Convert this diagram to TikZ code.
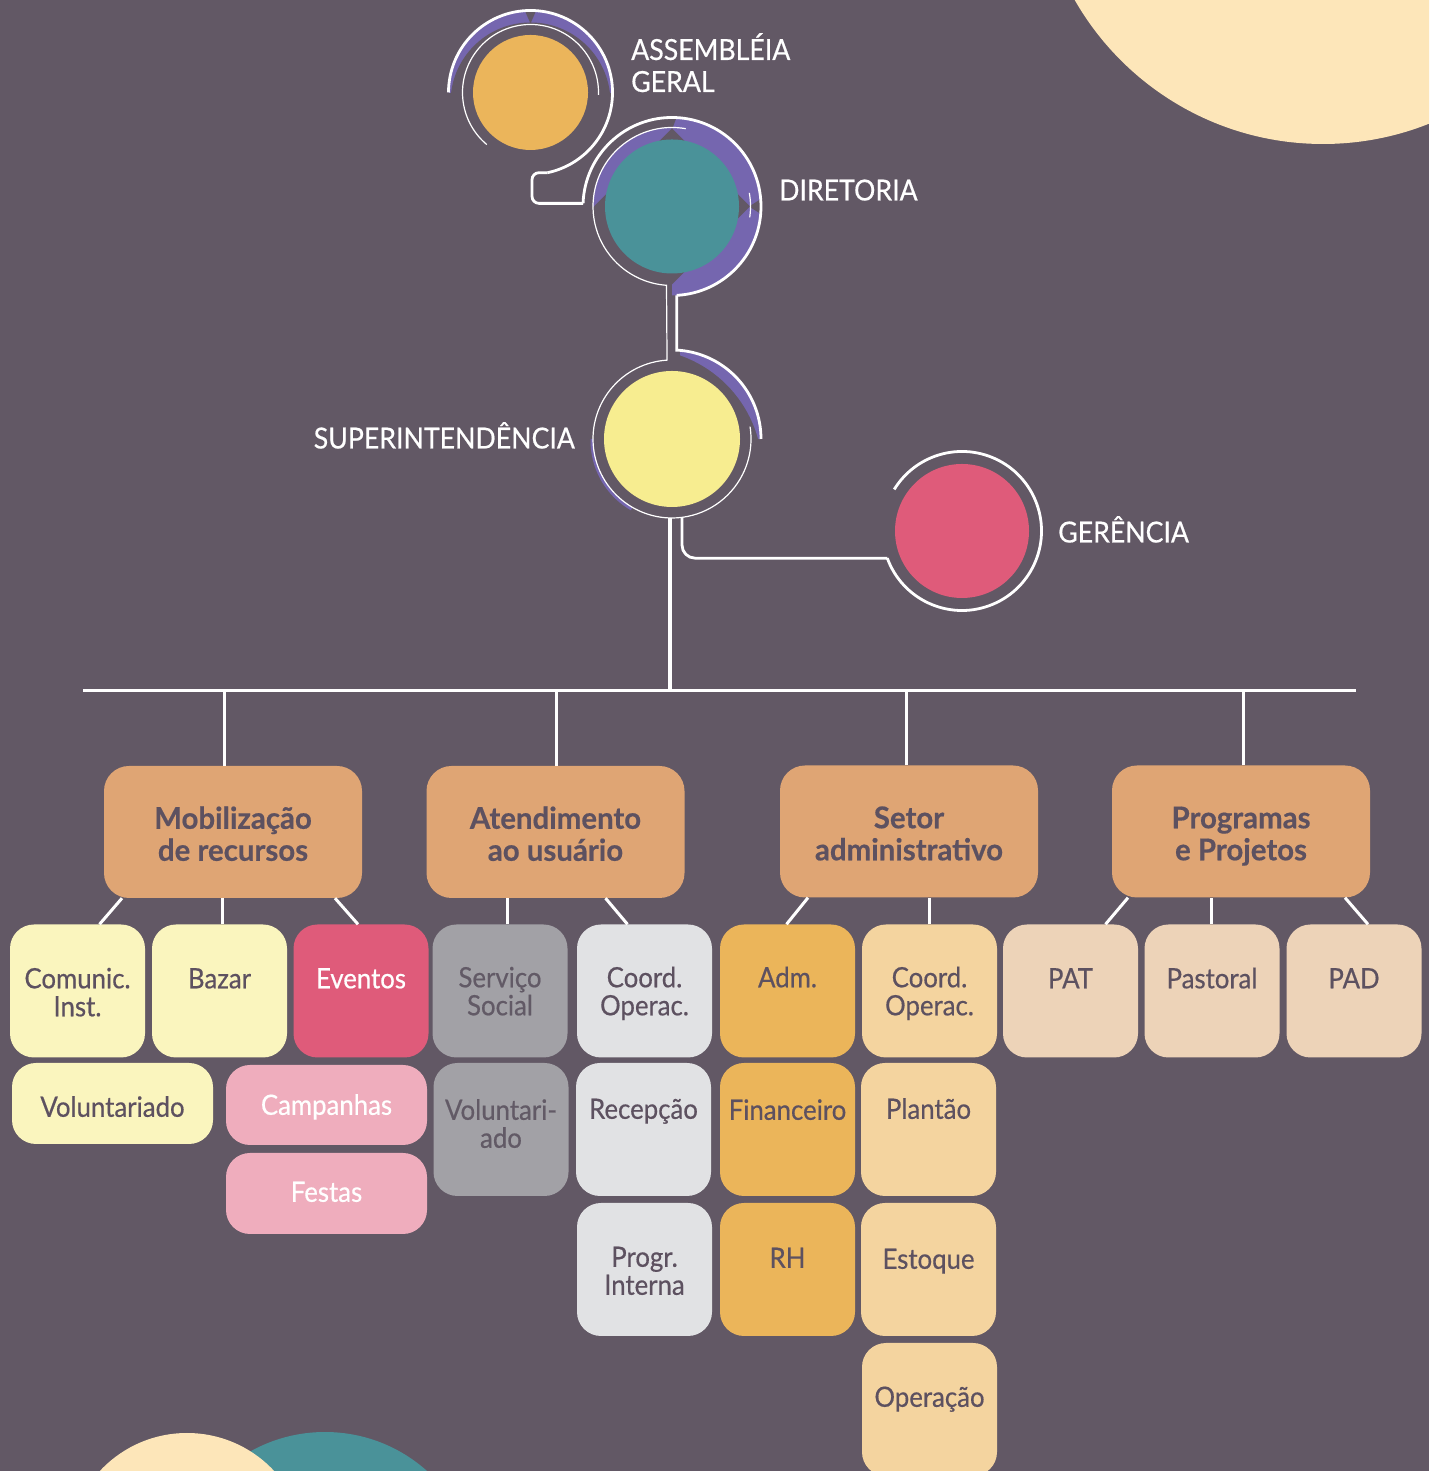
\documentclass[tikz,border=0pt]{standalone}
\usepackage{fontspec}
\setmainfont{Lato}[FakeStretch=0.92, FakeBold=0.5, BoldFeatures={FakeStretch=0.98}]
\usetikzlibrary{calc}
\definecolor{bgc}{HTML}{625865}
\definecolor{pur}{HTML}{7566AF}
\definecolor{cAg}{HTML}{EBB55B}
\definecolor{cTe}{HTML}{4A9299}
\definecolor{cYe}{HTML}{F7ED90}
\definecolor{cPi}{HTML}{DF5B7A}
\definecolor{cream}{HTML}{FDE6B9}
\definecolor{lone}{HTML}{DFA574}
\definecolor{ly}{HTML}{FAF5BE}
\definecolor{gr}{HTML}{A2A1A6}
\definecolor{lg}{HTML}{E1E2E4}
\definecolor{orr}{HTML}{EBB55A}
\definecolor{lo}{HTML}{F4D49F}
\definecolor{be}{HTML}{EDD3B8}
\definecolor{lp}{HTML}{EFADBD}
\definecolor{tx}{HTML}{5D5160}
\definecolor{txg}{HTML}{625A66}
\begin{document}
\begin{tikzpicture}[x=1pt,y=1pt,
  link/.style={draw=white, line width=3pt},
  thickring/.style={draw=white, line width=2.8pt},
  thinring/.style={draw=white, line width=1.2pt},
  lonebox/.style={fill=lone, rounded corners=25pt, minimum width=258pt, minimum height=132pt, inner sep=0pt},
  lonelbl/.style={anchor=base, yshift=-63pt, text width=250pt, align=flush center, inner sep=0pt, text=tx, font=\fontsize{30}{32}\selectfont\bfseries},
  bx/.style={fill=#1, rounded corners=24pt, minimum width=135pt, minimum height=133pt, inner sep=0pt},
  lbl/.style={anchor=base, yshift=-#1pt, text width=150pt, align=flush center, inner sep=0pt, font=\fontsize{28}{28}\selectfont, text=tx},
  toplbl/.style={text=white, inner sep=0pt, font=\fontsize{29}{32}\selectfont},
  circ/.style={circle, fill=#1, inner sep=0pt}]
\useasboundingbox (0,0) rectangle (1429,1471);
\clip (0,0) rectangle (1429,1471);
\fill[bgc] (0,0) rectangle (1429,1471);
% decorative circles
\fill[cTe] (325,-114) circle (153);
\fill[cream] (187,-81) circle (119);
\fill[cream] (1323,1613) circle (286);
% centres
\coordinate (cA) at (530.5,1378.5);
\coordinate (cD) at (672,1264.5);
\coordinate (cS) at (672,1032);
\coordinate (cG) at (962,940);
\coordinate (busL) at (83,780);
\coordinate (busR) at (1356,780);
% purple bands: Assembleia
\begin{scope}
  \clip ([shift={(-90,0)}]cA) rectangle ++(180,92);
  \fill[pur] (cA) circle (82);
  \fill[bgc] ([shift={(0,-10)}]cA) circle (80);
\end{scope}
\fill[bgc] ([shift={(-8,87)}]cA) -- ([shift={(8,87)}]cA) -- ([shift={(0,69)}]cA) -- cycle;
% Diretoria
\begin{scope}
  \clip ([shift={(0,-100)}]cD) rectangle ++(100,200);
  \fill[pur] (cD) circle (89);
\end{scope}
\begin{scope}
  \clip (cD) rectangle ++(-100,100);
  \fill[pur] (cD) circle (79);
\end{scope}
\fill[bgc] ([shift={(78,0)}]cD) -- ([shift={(0,78)}]cD) -- ([shift={(-78,0)}]cD) -- ([shift={(0,-78)}]cD) -- cycle;
\fill[bgc] ([shift={(-6,93)}]cD) -- ([shift={(6,93)}]cD) -- ([shift={(0,77)}]cD) -- cycle;
\fill[bgc] ([shift={(93,10)}]cD) -- ([shift={(93,-10)}]cD) -- ([shift={(77,0)}]cD) -- cycle;
% Superintendencia
\begin{scope}
  \clip ([shift={(8,0)}]cS) rectangle ++(100,100);
  \fill[pur, even odd rule] (cS) circle (89) ([shift={(-32,-32)}]cS) circle (122.3);
\end{scope}
\begin{scope}
  \clip (cS) -- ([shift={(180:100)}]cS) -- ([shift={(240:100)}]cS) -- cycle;
  \fill[pur, even odd rule] ([shift={(-1,-1.5)}]cS) circle (80.5) (cS) circle (79);
\end{scope}
% circles
\node[circ=cAg, minimum size=115pt] (ag) at (cA) {};
\node[circ=cTe, minimum size=134pt] (dir) at (cD) {};
\node[circ=cYe, minimum size=136pt] (sup) at (cS) {};
\node[circ=cPi, minimum size=134pt] (ger) at (cG) {};
% labels
\node[toplbl, anchor=base west, text width=220pt, align=left] (agL) at (631,1411) {ASSEMBLÉIA\\GERAL};
\node[toplbl, anchor=base west] (dirL) at (779,1270.5) {DIRETORIA};
\node[toplbl, anchor=base east] (supL) at (575,1022.5) {SUPERINTENDÊNCIA};
\node[toplbl, anchor=base west] (gerL) at (1058,928.5) {GERÊNCIA};
% white rings and connectors
\draw[thickring] ([shift={(180:82)}]cA) arc[start angle=180, end angle=-78, radius=82] coordinate (aE);
\coordinate (dS) at ([shift={(178:89)}]cD);
\coordinate (bx) at (532,0);
\draw[thickring, rounded corners=7pt] (aE) -- (aE -| bx) -- (bx |- dS) -- (dS);
\draw[thickring] (dS) arc[start angle=178, end angle=-87, radius=89] coordinate (dE);
\coordinate (sS) at ([shift={(85:89)}]cS);
\draw[thickring] (dE) -- (dE |- sS) -- (sS) arc[start angle=85, end angle=0, radius=89];
\draw[thinring] ([shift={(230:68)}]cA) arc[start angle=230, end angle=-2, radius=68];
\draw[thinring] ([shift={(80:79)}]cD) arc[start angle=80, end angle=266, radius=79] -- ([shift={(93.6:79)}]cS) arc[start angle=93.6, end angle=369, radius=79];
\draw[thinring] ([shift={(10:78.5)}]cD) arc[start angle=10, end angle=-8, radius=78.5];
\coordinate (gA) at ([shift={(200:79.5)}]cG);
\draw[thickring] (gA) arc[start angle=200, end angle=508.5, radius=79.5];
\coordinate (gs) at ([shift={(-82.7:79)}]cS);
\draw[thickring, rounded corners=13pt] (gs) -- (gs |- gA) -- (gA);
\coordinate (ms) at ([shift={(-91.5:79)}]cS);
\draw[link, line width=3.5pt] (ms) -- (ms |- busL);
\draw[link] (busL) -- (busR);
% level 1 boxes
\node[lonebox, label={[lonelbl]north:{Mobilização\\de recursos}}] (mob) at (233,639) {};
\node[lonebox, label={[lonelbl]north:{Atendimento\\ao usuário}}] (ate) at (555.5,639) {};
\node[lonebox, label={[lonelbl]north:{Setor\\administrativo}}] (set) at (909,639.5) {};
\node[lonebox, label={[lonelbl]north:{Programas\\e Projetos}}] (pro) at (1241,639.5) {};
\foreach \n/\dx in {mob/-9,ate/0.5,set/-3,pro/2}{
  \draw[link] ([xshift=\dx pt]\n.north) -- ([xshift=\dx pt]\n.north |- busL);
}
% level 2 boxes
\node[bx=ly, label={[lbl=64]north:{Comunic.\\Inst.}}] (com) at (77.5,480) {};
\node[bx=ly, label={[lbl=64]north:{Bazar}}] (baz) at (219.5,480) {};
\node[bx=cPi, label={[lbl=64, text=white]north:{Eventos}}] (eve) at (361,480) {};
\node[bx=gr, label={[lbl=63, text=txg]north:{Serviço\\Social}}] (ser) at (500,480) {};
\node[bx=lg, label={[lbl=63]north:{Coord.\\Operac.}}] (coo) at (644.5,480) {};
\node[bx=orr, label={[lbl=63]north:{Adm.}}] (adm) at (787.5,480) {};
\node[bx=lo, label={[lbl=63]north:{Coord.\\Operac.}}] (co2) at (929.5,480) {};
\node[bx=be, label={[lbl=64]north:{PAT}}] (pat) at (1070.5,480) {};
\node[bx=be, label={[lbl=64]north:{Pastoral}}] (pas) at (1212,480) {};
\node[bx=be, label={[lbl=64]north:{PAD}}] (pad) at (1354,480) {};
% row 2
\node[bx=ly, minimum width=201pt, minimum height=81pt, label={[lbl=54, text width=200pt]north:{Voluntariado}}] (vol) at (112.5,367.5) {};
\node[bx=lp, minimum width=201pt, minimum height=80pt, label={[lbl=50, text width=200pt, text=white]north:{Campanhas}}] (cam) at (326.5,366) {};
\node[bx=lp, minimum width=201pt, minimum height=81pt, label={[lbl=49, text width=200pt, text=white]north:{Festas}}] (fes) at (326.5,277.5) {};
\node[bx=gr, label={[lbl=57, text=txg]north:{Voluntari-\\ado}}] (vo2) at (501,341.5) {};
\node[bx=lg, label={[lbl=56]north:{Recepção}}] (rec) at (643.5,341.5) {};
\node[bx=orr, label={[lbl=57]north:{Financeiro}}] (fin) at (787.5,341.5) {};
\node[bx=lo, label={[lbl=56]north:{Plantão}}] (pla) at (928.5,341.5) {};
% row 3
\node[bx=lg, label={[lbl=64]north:{Progr.\\Interna}}] (prg) at (644.5,201.5) {};
\node[bx=orr, label={[lbl=65]north:{RH}}] (rh) at (787.5,201.5) {};
\node[bx=lo, label={[lbl=66]north:{Estoque}}] (est) at (928.5,201.5) {};
% row 4
\node[bx=lo, label={[lbl=64]north:{Operação}}] (ope) at (929.5,61.5) {};
% level 1 -> level 2 links
\draw[link] ([xshift=-111pt]mob.south) -- ([xshift=22pt]com.north);
\draw[link] ([xshift=3pt]baz.north) -- ([xshift=3pt]baz.north |- mob.south);
\draw[link] ([xshift=102pt]mob.south) -- ([xshift=-3pt]eve.north);
\draw[link] ([xshift=7pt]ser.north) -- ([xshift=7pt]ser.north |- ate.south);
\draw[link] ([xshift=50pt]ate.south) -- ([xshift=-17pt]coo.north);
\draw[link] ([xshift=-101pt]set.south) -- ([xshift=-1pt]adm.north);
\draw[link] (co2.north) -- (co2.north |- set.south);
\draw[link] ([xshift=-113pt]pro.south) -- ([xshift=35pt]pat.north);
\draw[link] ([xshift=-1pt]pas.north) -- ([xshift=-1pt]pas.north |- pro.south);
\draw[link] ([xshift=104pt]pro.south) -- ([xshift=14pt]pad.north);
\end{tikzpicture}
\end{document}
